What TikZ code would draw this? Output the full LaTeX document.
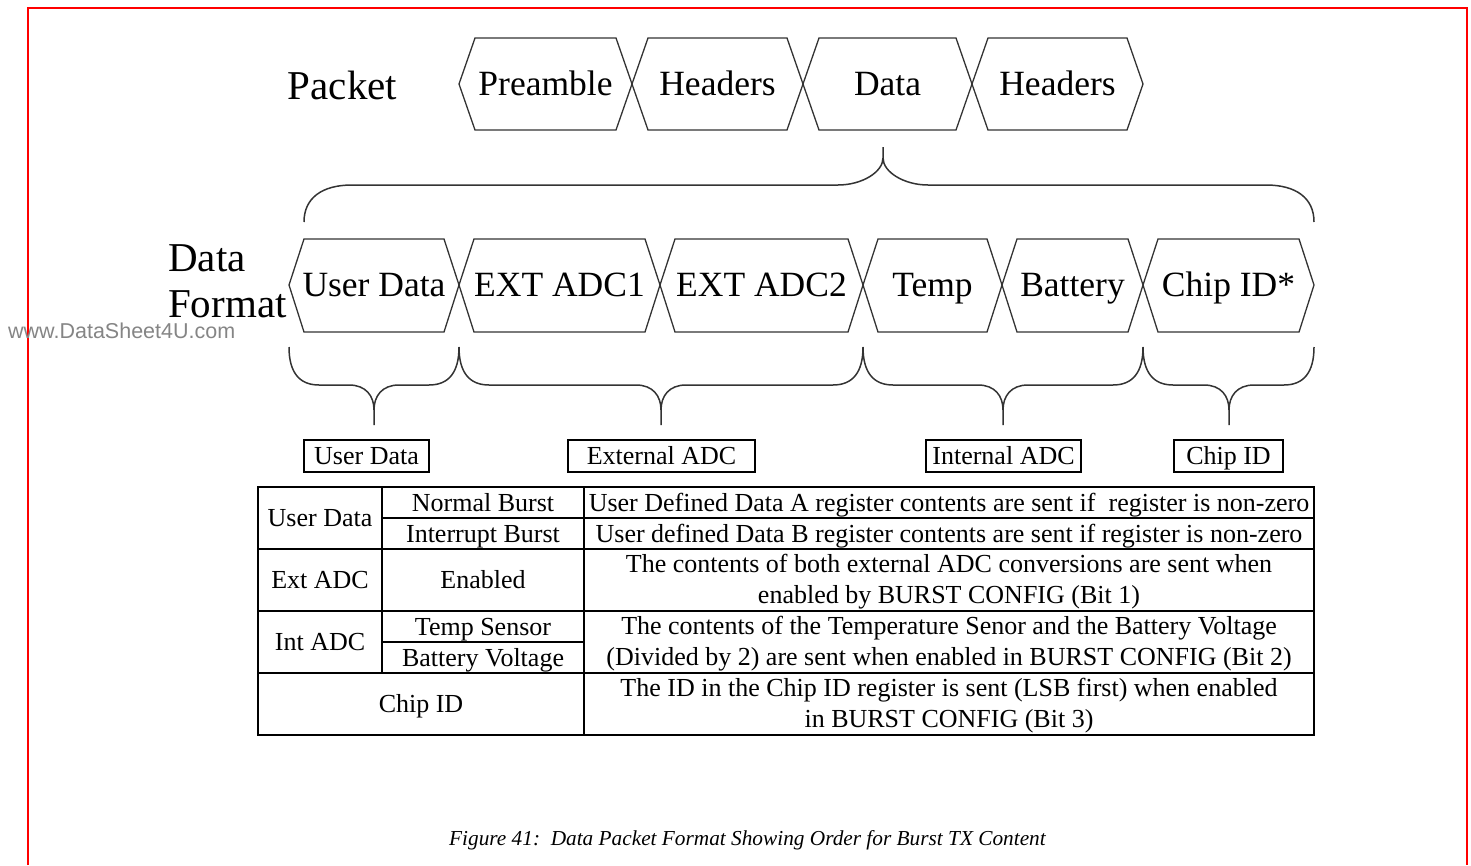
\documentclass[tikz,border=0pt]{standalone}
\usepackage{fontspec}
\setmainfont{Liberation Serif}
\newfontfamily\wmfont{Liberation Sans}
\newcommand\headfont{\fontsize{41pt}{46pt}\selectfont}
\newcommand\fieldfont{\fontsize{35.5pt}{42pt}\selectfont}
\newcommand\tabfont{\fontsize{26pt}{31pt}\selectfont}
\newcommand\capfont{\fontsize{21.3pt}{26pt}\selectfont\itshape}
\definecolor{borderred}{HTML}{FF0000}
\definecolor{ink}{HTML}{333333}
\definecolor{wmgray}{HTML}{858585}

\begin{document}
\begin{tikzpicture}[x=1pt, y=-1pt,
  hexline/.style={draw=ink, line width=1.3pt, line join=miter},
  field/.style={font=\fieldfont, inner sep=0pt, text height=23.4pt, text depth=0pt},
  heading/.style={font=\headfont, inner sep=0pt},
  curly/.style={draw=ink, line width=1.5pt},
  tag/.style={draw=black, line width=1.2pt, font=\tabfont, inner sep=0pt,
              minimum height=32pt, text height=17pt, text depth=0pt},
  rule/.style={draw=black, line width=1.2pt},
  cell/.style={font=\tabfont, inner sep=0pt, text height=17pt, text depth=0pt},
  cellwide/.style={font=\tabfont, inner sep=0pt, align=center}
]
  \useasboundingbox (0,0) rectangle (1471,865);

  % Page frame
  \draw[borderred, line width=2.5pt] (28,865) -- (28,8) -- (1467,8) -- (1467,865);

  % Watermark
  \node[font=\wmfont\fontsize{21.5pt}{26pt}\selectfont, text=wmgray, inner sep=0pt,
        text height=15.5pt, text depth=0pt, anchor=west] (wm) at (8,331) {www.DataSheet4U.com};

  % Packet row
  \node[heading, text height=27pt, text depth=0pt] (packet) at (342.5,86) {Packet};
  \draw[hexline] (459,84) -- (475,38) -- (616,38) -- (632,84) -- (616,130) -- (475,130) -- cycle;
  \draw[hexline] (632,84) -- (648,38) -- (787,38) -- (803,84) -- (787,130) -- (648,130) -- cycle;
  \draw[hexline] (803,84) -- (819,38) -- (956,38) -- (972,84) -- (956,130) -- (819,130) -- cycle;
  \draw[hexline] (972,84) -- (988,38) -- (1127,38) -- (1143,84) -- (1127,130) -- (988,130) -- cycle;
  \node[field] (pre)  at (545.5,84)  {Preamble};
  \node[field] (hdrA) at (717.5,84)  {Headers};
  \node[field] (data) at (887.5,84)  {Data};
  \node[field] (hdrB) at (1057.5,84) {Headers};

  % Brace: Data -> data format
  \draw[curly] (304,222) .. controls (304,198) and (322,185) .. (352,185) -- (838,185)
    .. controls (862,185) and (883,172) .. (883,158) -- (883,147);
  \draw[curly] (883,158) .. controls (883,172) and (904,185) .. (928,185) -- (1266,185)
    .. controls (1296,185) and (1314,198) .. (1314,222);

  % Data format row
  \node[heading, align=left, anchor=west] (dfmt) at (168,281.5) {Data\\Format};
  \draw[hexline] (289,285) -- (304,239) -- (444,239) -- (459,285) -- (444,332) -- (304,332) -- cycle;
  \draw[hexline] (459,285) -- (474,239) -- (645,239) -- (660,285) -- (645,332) -- (474,332) -- cycle;
  \draw[hexline] (660,285) -- (675,239) -- (848,239) -- (863,285) -- (848,332) -- (675,332) -- cycle;
  \draw[hexline] (863,285) -- (878,239) -- (987,239) -- (1002,285) -- (987,332) -- (878,332) -- cycle;
  \draw[hexline] (1002,285) -- (1017,239) -- (1128,239) -- (1143,285) -- (1128,332) -- (1017,332) -- cycle;
  \draw[hexline] (1143,285) -- (1158,239) -- (1299,239) -- (1314,285) -- (1299,332) -- (1158,332) -- cycle;
  \node[field] (fud)   at (374,285)    {User Data};
  \node[field] (fext1) at (559.5,285)  {EXT ADC1};
  \node[field] (fext2) at (761.5,285)  {EXT ADC2};
  \node[field] (ftemp) at (932.5,285)  {Temp};
  \node[field] (fbat)  at (1072.5,285) {Battery};
  \node[field] (fchip) at (1228.5,285) {Chip ID*};

  % Group braces
  \draw[curly] (289,347) .. controls (289,372) and (299,385) .. (319,385) -- (349,385)
    .. controls (366,385) and (374,396) .. (374,410) -- (374,425);
  \draw[curly] (374,410) .. controls (374,396) and (382,385) .. (399,385) -- (429,385)
    .. controls (449,385) and (459,372) .. (459,347);
  \draw[curly] (459,347) .. controls (459,372) and (469,385) .. (489,385) -- (636,385)
    .. controls (653,385) and (661,396) .. (661,410) -- (661,425);
  \draw[curly] (661,410) .. controls (661,396) and (669,385) .. (686,385) -- (833,385)
    .. controls (853,385) and (863,372) .. (863,347);
  \draw[curly] (863,347) .. controls (863,372) and (873,385) .. (893,385) -- (978,385)
    .. controls (995,385) and (1003,396) .. (1003,410) -- (1003,425);
  \draw[curly] (1003,410) .. controls (1003,396) and (1011,385) .. (1028,385) -- (1113,385)
    .. controls (1133,385) and (1143,372) .. (1143,347);
  \draw[curly] (1143,347) .. controls (1143,372) and (1153,385) .. (1173,385) -- (1204,385)
    .. controls (1221,385) and (1229,396) .. (1229,410) -- (1229,425);
  \draw[curly] (1229,410) .. controls (1229,396) and (1237,385) .. (1254,385) -- (1284,385)
    .. controls (1304,385) and (1314,372) .. (1314,347);

  % Group labels
  \node[tag, minimum width=125pt] (gud)   at (366.5,456)  {User Data};
  \node[tag, minimum width=187pt] (gext)  at (661.5,456)  {External ADC};
  \node[tag, minimum width=155pt] (gint)  at (1003.5,456) {Internal ADC};
  \node[tag, minimum width=109pt] (gchip) at (1228.5,456) {Chip ID};

  % Table rules
  \draw[rule] (258,487) rectangle (1314,735);
  \draw[rule] (258,549) -- (1314,549);
  \draw[rule] (258,611) -- (1314,611);
  \draw[rule] (258,673) -- (1314,673);
  \draw[rule] (382,518) -- (1314,518);
  \draw[rule] (382,642) -- (584,642);
  \draw[rule] (382,487) -- (382,673);
  \draw[rule] (584,487) -- (584,735);

  % Table text
  \node[cell] (tud)  at (320,518)   {User Data};
  \node[cell] (tnb)  at (483,502.5) {Normal Burst};
  \node[cell] (tib)  at (483,533.5) {Interrupt Burst};
  \node[cell] (tda)  at (949,502.5) {User Defined Data A register contents are sent if\ \ register is non-zero};
  \node[cell] (tdb)  at (949,533.5) {User defined Data B register contents are sent if register is non-zero};
  \node[cell] (text) at (320,580)   {Ext ADC};
  \node[cell] (ten)  at (483,580)   {Enabled};
  \node[cellwide] (textd) at (949,582) {The contents of both external ADC conversions are sent when\\enabled by BURST CONFIG (Bit 1)};
  \node[cell] (tint) at (320,642)   {Int ADC};
  \node[cell] (tts)  at (483,626.5) {Temp Sensor};
  \node[cell] (tbv)  at (483,657.5) {Battery Voltage};
  \node[cellwide] (tintd) at (949,644) {The contents of the Temperature Senor and the Battery Voltage\\(Divided by 2) are sent when enabled in BURST CONFIG (Bit 2)};
  \node[cell] (tcid) at (421,704)   {Chip ID};
  \node[cellwide] (tcidd) at (949,706) {The ID in the Chip ID register is sent (LSB first) when enabled\\in BURST CONFIG (Bit 3)};

  % Caption
  \node[font=\capfont, inner sep=0pt, text height=14pt, text depth=0pt] (cap) at (747.5,838)
    {Figure 41:\ \ Data Packet Format Showing Order for Burst TX Content};
\end{tikzpicture}
\end{document}
